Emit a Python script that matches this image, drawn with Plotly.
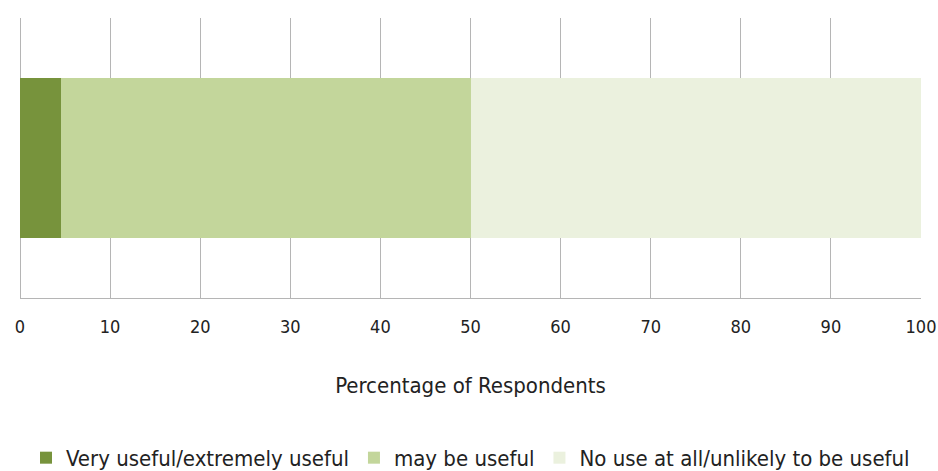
import plotly.graph_objects as go

categories = [""]
series_names = ["Very useful/extremely useful", "may be useful", "No use at all/unlikely to be useful"]
series_values = [[4.5], [45.5], [50.0]]
colors = ["#77933C", "#C3D69B", "#EBF1DE"]
x_ticks = [0, 10, 20, 30, 40, 50, 60, 70, 80, 90, 100]

FONT = "DejaVu Sans Condensed, sans-serif"

fig = go.Figure()
for name, vals, col in zip(series_names, series_values, colors):
    fig.add_trace(go.Bar(
        y=categories, x=vals, name=name, orientation="h",
        marker=dict(color=col, line=dict(width=0)),
    ))

fig.update_layout(
    barmode="stack",
    bargap=0.43,
    width=938, height=471,
    margin=dict(l=20, r=17, t=18, b=173, autoexpand=False),
    paper_bgcolor="white", plot_bgcolor="white",
    font=dict(family=FONT, color="#222222"),
    showlegend=True,
    legend=dict(
        orientation="h", x=0.5, xanchor="center", y=-0.571, yanchor="middle",
        font=dict(size=22, family=FONT, color="#222222"),
        traceorder="normal", itemwidth=30, tracegroupgap=0,
    ),
    xaxis=dict(
        range=[0, 100], tickvals=x_ticks, ticktext=[str(t) for t in x_ticks],
        showgrid=True, gridcolor="#B5B5B5", gridwidth=1,
        zeroline=True, zerolinecolor="#B5B5B5", zerolinewidth=1,
        showline=True, linecolor="#B5B5B5", linewidth=1, mirror=False,
        ticks="", tickfont=dict(size=18, family=FONT, color="#222222"),
        ticklabelstandoff=12, automargin=False,
        title=dict(text="Percentage of Respondents", standoff=42,
                   font=dict(size=22, family=FONT, color="#222222")),
        fixedrange=True,
    ),
    yaxis=dict(showgrid=False, zeroline=False, showline=False, showticklabels=False,
               range=[-0.5, 0.5], fixedrange=True, automargin=False),
)

fig.write_html("out.html")
